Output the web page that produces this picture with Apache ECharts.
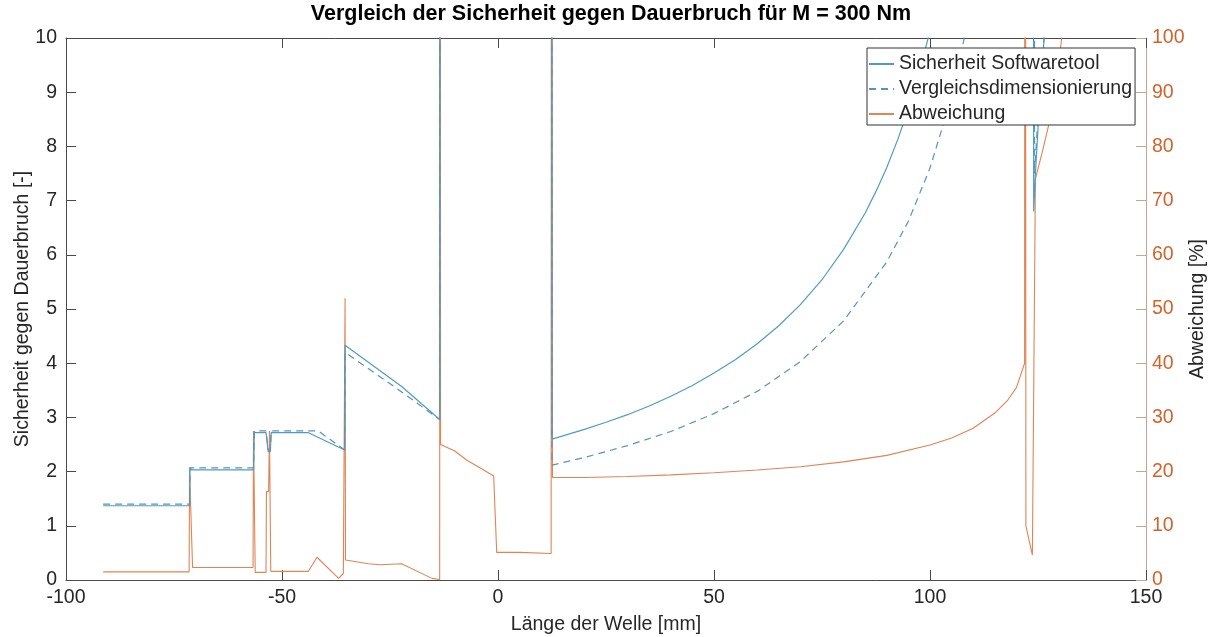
<!DOCTYPE html>
<html>
<head>
<meta charset="utf-8">
<script src="https://cdn.jsdelivr.net/npm/echarts@6/dist/echarts.min.js"></script>
<style>
  html, body { margin: 0; padding: 0; background: #fff; }
  #chart { width: 1210px; height: 637px; }
</style>
</head>
<body>
<div id="chart"></div>
<script>
// Position along the shaft [mm] and safety factor for the software tool
const softX = [-91.4, -71.4, -71.3, -71.0, -56.6, -56.4, -53.7, -53.2, -52.7, -52.5, -44.0, -35.5, -35.4, -22.3, -13.5, -13.4, 12.4, 12.5,
  15, 20, 25, 30, 35, 40, 45, 50, 55, 60, 65, 70, 75, 80, 85, 87.5, 90, 92.5, 95, 97.5, 100, 105, 110, 115, 123.9, 124.0, 124.4, 125.2, 126.6, 128.0];
const softY = [1.37, 1.37, 2.08, 2.03, 2.03, 2.72, 2.72, 2.37, 2.37, 2.72, 2.72, 2.40, 4.33, 3.57, 2.96, 40, 40, 2.60,
  2.66, 2.78, 2.91, 3.05, 3.21, 3.39, 3.59, 3.82, 4.07, 4.36, 4.69, 5.08, 5.54, 6.10, 6.77, 7.17, 7.61, 8.12, 8.69, 9.36, 10.13, 12.1, 15.1, 20, 40, 6.8, 7.5, 8.6, 10.2, 12];

// Safety factor from the comparison design
const compX = [-91.4, -71.4, -71.3, -56.6, -56.4, -53.7, -53.2, -52.7, -52.5, -41.6, -35.5, -35.4, -22.3, -13.5, -13.4, 12.4, 12.5,
  20, 30, 40, 50, 60, 70, 80, 90, 95, 100, 105, 110, 115, 124.1, 124.2, 124.8, 125.8, 126.8];
const compY = [1.40, 1.40, 2.07, 2.07, 2.75, 2.75, 2.40, 2.40, 2.75, 2.75, 2.40, 4.20, 3.47, 2.96, 40, 40, 2.12,
  2.26, 2.48, 2.74, 3.07, 3.48, 4.03, 4.78, 5.87, 6.62, 7.60, 8.91, 10.77, 13.6, 40, 7.5, 8.3, 9.4, 10.4];

// Deviation between both results [%]
const devX = [-91.4, -71.5, -71.4, -70.7, -56.7, -56.6, -56.2, -53.7, -53.6, -53.1, -52.9, -52.6, -43.9, -41.9, -36.9, -35.8, -35.4, -35.3,
  -30, -27.3, -22.3, -15.3, -13.5, -13.4, -13.3, -10, -7.2, -4, -1.0, -0.3, 5, 12.3, 12.4, 12.6,
  20, 30, 40, 50, 60, 70, 80, 90, 100, 105, 110, 115, 118, 120, 121.9, 122.0, 122.2, 123.7, 124.4, 126, 127.5, 129, 130.5, 131];
const devY = [1.5, 1.5, 20.3, 2.3, 2.3, 27.5, 1.4, 1.4, 16.3, 16.3, 27.5, 1.6, 1.6, 4.2, 0.3, 1.2, 52, 3.7,
  3.0, 2.8, 3.0, 0.3, 0.1, 300, 25, 23.8, 22.1, 20.6, 19.2, 5.1, 5.1, 4.9, 300, 18.9,
  18.9, 19.1, 19.4, 19.8, 20.3, 20.9, 21.8, 23.0, 24.9, 26.2, 28.0, 30.8, 33.2, 35.5, 40, 300, 10, 4.6, 74, 79, 84, 91, 100, 103];

const xTicks = { min: -100, max: 150, step: 50 };
const leftTicks = { min: 0, max: 10, step: 1 };
const rightTicks = { min: 0, max: 100, step: 10 };

const seriesNames = ['Sicherheit Softwaretool', 'Vergleichsdimensionierung', 'Abweichung'];

const pairs = (xs, ys) => xs.map((x, i) => [x, ys[i]]);

const FONT = 'Liberation Sans, Arial, sans-serif';
const FS = 19.5;
const DARK = '#262626';
const AXIS = '#4a4a4a';
const ORANGE_AXIS = '#c9a58c';
const ORANGE_TEXT = '#d4622a';
const BLUE = '#4f9cc2';
const BLUE_DASH = '#5a94b4';
const ORANGE = '#df8456';

const chart = echarts.init(document.getElementById('chart'), null, { renderer: 'canvas' });

const xCommon = {
  type: 'value',
  min: xTicks.min, max: xTicks.max, interval: xTicks.step,
  splitLine: { show: false },
  axisLine: { onZero: false, lineStyle: { color: AXIS, width: 1 } },
  axisTick: { inside: true, length: 10, lineStyle: { color: AXIS } }
};

chart.setOption({
  animation: false,
  backgroundColor: '#ffffff',
  textStyle: { fontFamily: FONT },
  title: {
    text: 'Vergleich der Sicherheit gegen Dauerbruch für M = 300 Nm',
    left: 611, top: 3, padding: 0, textAlign: 'center',
    textStyle: { fontFamily: FONT, fontSize: 21.5, fontWeight: 'bold', color: '#000' }
  },
  grid: { left: 66, right: 64, top: 38, bottom: 57, containLabel: false, outerBoundsMode: 'none' },
  legend: {
    data: seriesNames,
    orient: 'vertical',
    left: 867, top: 48,
    itemWidth: 25, itemHeight: 12, itemGap: 5,
    padding: [6, 3, 1, 1],
    backgroundColor: '#ffffff',
    borderColor: '#333333', borderWidth: 1,
    itemStyle: { opacity: 0 },
    textStyle: { fontFamily: FONT, fontSize: FS, lineHeight: 20, color: DARK }
  },
  xAxis: [
    Object.assign({}, xCommon, {
      position: 'bottom',
      name: 'Länge der Welle [mm]',
      nameLocation: 'middle', nameGap: 35, nameMoveOverlap: false,
      nameTextStyle: { fontFamily: FONT, fontSize: FS, color: DARK },
      axisLabel: { fontFamily: FONT, fontSize: FS, color: DARK, margin: 8 }
    }),
    Object.assign({}, xCommon, {
      position: 'top',
      axisLabel: { show: false }
    })
  ],
  yAxis: [
    {
      type: 'value', position: 'left',
      min: leftTicks.min, max: leftTicks.max, interval: leftTicks.step,
      name: 'Sicherheit gegen Dauerbruch [-]',
      nameLocation: 'middle', nameGap: 33, nameRotate: 90, nameMoveOverlap: false,
      nameTextStyle: { fontFamily: FONT, fontSize: FS, color: DARK },
      splitLine: { show: false },
      axisLine: { show: true, onZero: false, lineStyle: { color: AXIS } },
      axisTick: { show: true, inside: true, length: 10, lineStyle: { color: AXIS } },
      axisLabel: { fontFamily: FONT, fontSize: FS, color: DARK, margin: 9 }
    },
    {
      type: 'value', position: 'right',
      min: rightTicks.min, max: rightTicks.max, interval: rightTicks.step,
      name: 'Abweichung [%]',
      nameLocation: 'middle', nameGap: 42, nameRotate: 90, nameMoveOverlap: false,
      nameTextStyle: { fontFamily: FONT, fontSize: FS, color: DARK },
      splitLine: { show: false },
      axisLine: { show: true, onZero: false, lineStyle: { color: ORANGE_AXIS } },
      axisTick: { show: true, inside: true, length: 10, lineStyle: { color: ORANGE_AXIS } },
      axisLabel: { fontFamily: FONT, fontSize: FS, color: ORANGE_TEXT, margin: 6 }
    }
  ],
  series: [
    {
      name: seriesNames[0], type: 'line', xAxisIndex: 0, yAxisIndex: 0,
      data: pairs(softX, softY), symbol: 'none', clip: true,
      lineStyle: { color: BLUE, width: 1.2 }, itemStyle: { color: BLUE }, z: 3
    },
    {
      name: seriesNames[1], type: 'line', xAxisIndex: 0, yAxisIndex: 0,
      data: pairs(compX, compY), symbol: 'none', clip: true,
      lineStyle: { color: BLUE_DASH, width: 1.2, type: [7, 5] }, itemStyle: { color: BLUE_DASH }, z: 3
    },
    {
      name: seriesNames[2], type: 'line', xAxisIndex: 0, yAxisIndex: 1,
      data: pairs(devX, devY), symbol: 'none', clip: true,
      lineStyle: { color: ORANGE, width: 1.1 }, itemStyle: { color: ORANGE }, z: 2
    }
  ]
});
</script>
</body>
</html>
